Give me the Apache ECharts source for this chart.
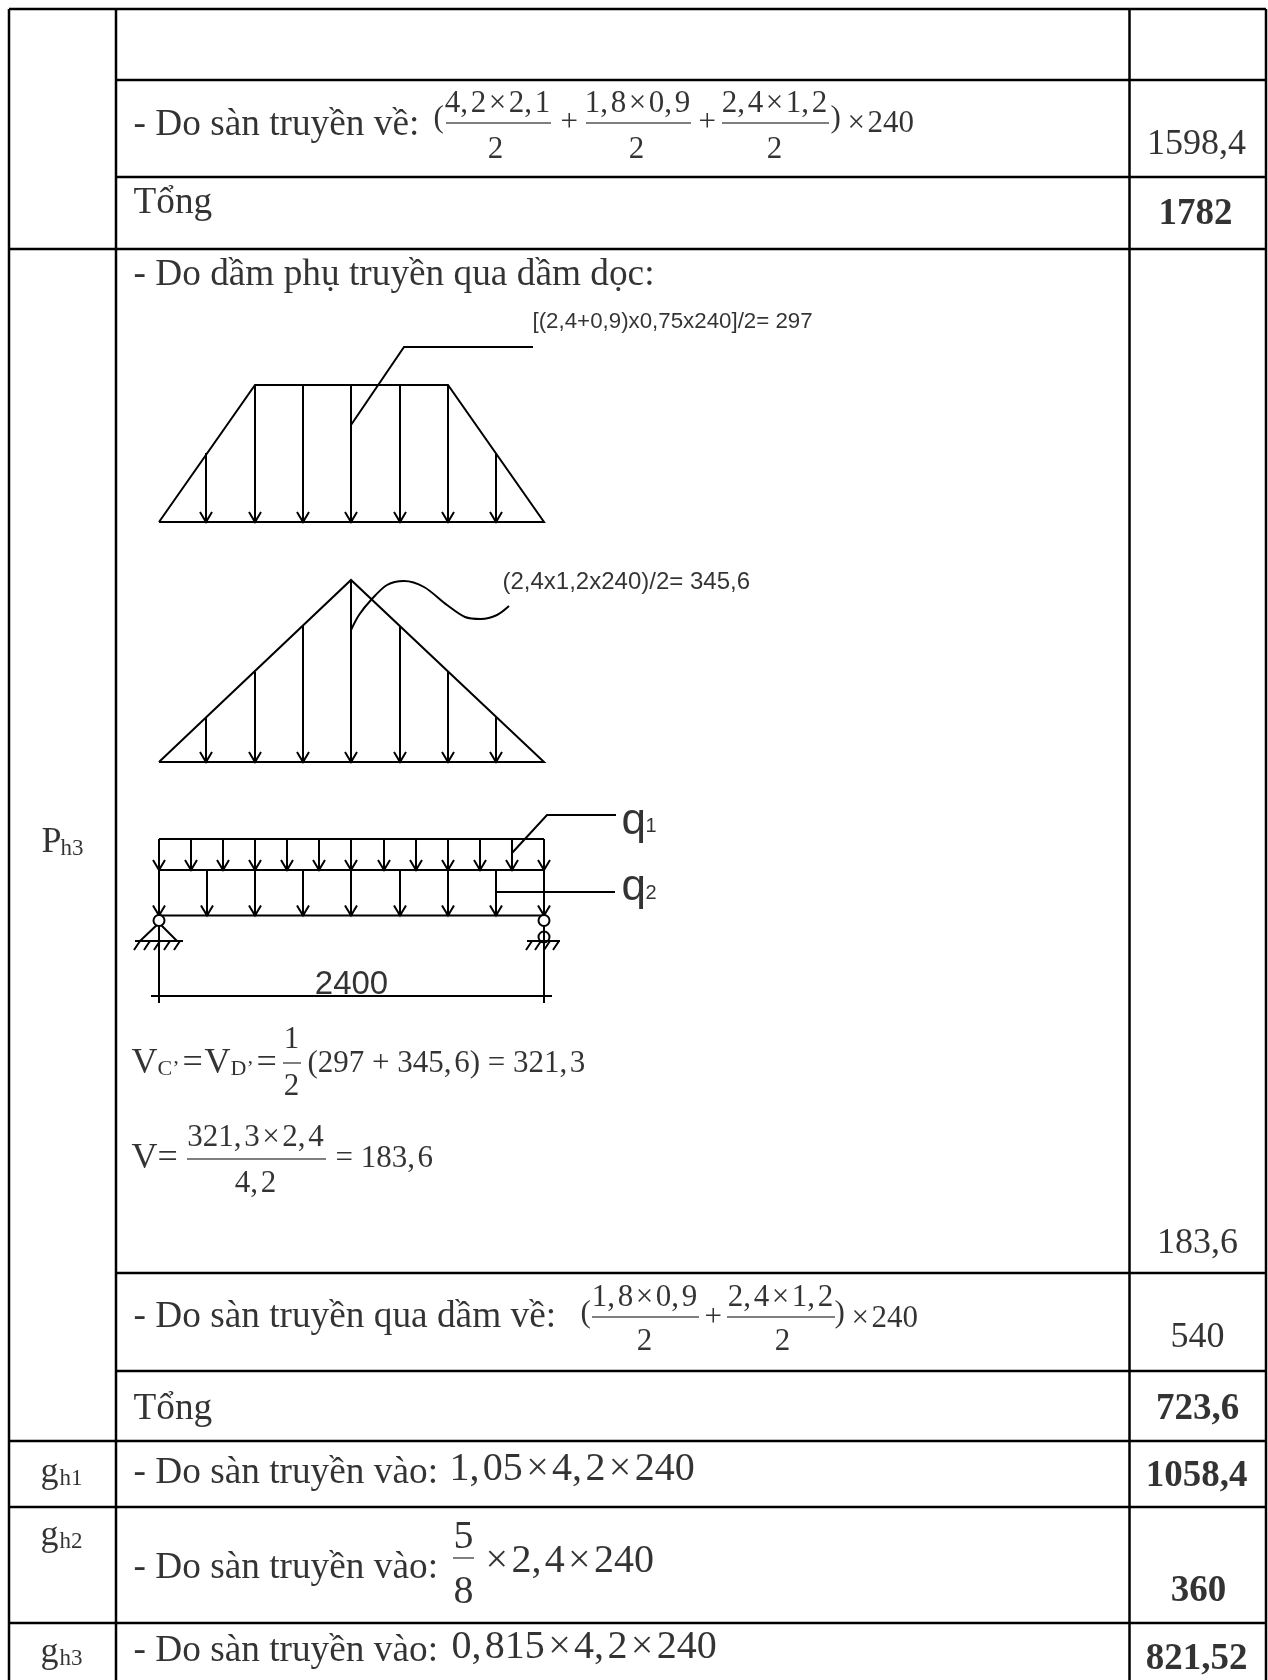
<!DOCTYPE html>
<html>
<head>
<meta charset="utf-8">
<title>Ph3</title>
<script src="https://cdn.jsdelivr.net/npm/echarts@6/dist/echarts.min.js"></script>
<style>
  html, body { margin: 0; padding: 0; background: #fff; }
  #chart { width: 1268px; height: 1680px; }
</style>
</head>
<body>
<div id="chart"></div>
<script>
// table rules: [x1, y1, x2, y2]
const tableRules = [
  [9, 9, 1266, 9], [116, 80, 1266, 80], [116, 177, 1266, 177], [9, 249, 1266, 249],
  [116, 1273, 1266, 1273], [116, 1371, 1266, 1371], [9, 1441, 1266, 1441],
  [9, 1507, 1266, 1507], [9, 1623, 1266, 1623],
  [9, 9, 9, 1680], [116, 9, 116, 1680], [1129.5, 9, 1129.5, 1680], [1266, 9, 1266, 1680]
];

// trapezoid load
const trapezoidOutline = [[159, 522], [255, 385], [448, 385], [544, 522], [159, 522]];
const trapezoidX = [206, 255, 303, 351, 400, 448, 496];
const trapezoidTop = [453, 385, 385, 385, 385, 385, 453];
const trapezoidBase = 522;
const trapezoidLeader = [[351, 425], [404, 347], [533, 347]];

// triangle load
const triangleOutline = [[159, 762], [351, 580], [544, 762], [159, 762]];
const triangleX = [206, 255, 303, 351, 400, 448, 496];
const triangleTop = [717, 672, 625, 580, 627, 672, 717];
const triangleBase = 762;
const triangleLeader = [[351, 630], [359, 615], [371, 600], [387, 585], [404, 581], [424, 587], [447, 605], [465, 617], [481, 619], [497, 615], [509, 606]];

// combined load on the beam
const q1Lines = [[[159, 839], [544, 839]], [[159, 870], [544, 870]]];
const q1X = [159, 191, 223, 255, 287, 319, 351, 384, 416, 448, 480, 512, 544];
const q1Top = 839;
const q1Base = 870;
const q2Line = [[159, 915.5], [544, 915.5]];
const q2X = [159, 207, 255, 303, 351, 400, 448, 496, 544];
const q2Top = 870;
const q2Base = 915.5;
const q1Leader = [[512, 853], [547, 815], [616, 815]];
const q2Leader = [[496, 892], [615, 892]];

// supports and dimension line
const supportLines = [
  [[140, 941], [159, 923], [177, 941]],
  [[135, 941], [183, 941]],
  [[527, 941], [560, 941]],
  [[159, 916], [159, 1003]],
  [[544, 916], [544, 1003]],
  [[151, 996], [552, 996]]
];
const hatchX = [140, 150, 160, 170, 180, 532, 541, 550, 559];
const hatchY = 941;
const topHinges = [[159, 920.5], [544, 920.5]];
const lowerHinge = [[544, 937]];

// fraction bars
const fractionBars = [
  [[446, 123], [551, 123]], [[586, 123], [691, 123]], [[722, 123], [829, 123]],
  [[592, 1317], [699, 1317]], [[727, 1317], [835, 1317]],
  [[283, 1063], [301, 1063]], [[187, 1159], [326, 1159]],
  [[453, 1558], [474, 1558]]
];

// texts: [x, y, string]
const cellTexts = [
  [134, 126, '- Do sàn truyền về:'],
  [134, 204, 'Tổng'],
  [134, 276, '- Do dầm phụ truyền qua dầm dọc:'],
  [134, 1318, '- Do sàn truyền qua dầm về:'],
  [134, 1410, 'Tổng'],
  [134, 1474, '- Do sàn truyền vào:'],
  [134, 1569, '- Do sàn truyền vào:'],
  [134, 1652, '- Do sàn truyền vào:']
];
const rowLabelMain = [[42, 843, 'P'], [41, 1473, 'g'], [41, 1536, 'g'], [41, 1653, 'g']];
const rowLabelSub = [[61, 849, 'h3'], [60, 1479, 'h1'], [60, 1542, 'h2'], [60, 1659, 'h3']];
const plainValues = [
  [1197, 145, '1598,4'], [1198, 1244, '183,6'], [1198, 1338, '540']
];
const boldValues = [
  [1196, 215, '1782'], [1198, 1410, '723,6'], [1197, 1477, '1058,4'],
  [1199, 1592, '360'], [1197, 1660, '821,52']
];
const formulaTexts = [
  [434, 119, '('], [561, 123, '+'], [699, 123, '+'], [831, 119, ')'], [848, 124, '×\u200a240'],
  [581, 1314, '('], [705, 1318, '+'], [835, 1314, ')'], [852, 1319, '×\u200a240']
];
const fractionTexts = [
  [498, 104, '4,\u200a2\u200a×\u200a2,\u200a1'], [496, 150, '2'],
  [638, 104, '1,\u200a8\u200a×\u200a0,\u200a9'], [637, 150, '2'],
  [775, 104, '2,\u200a4\u200a×\u200a1,\u200a2'], [775, 150, '2'],
  [645, 1298, '1,\u200a8\u200a×\u200a0,\u200a9'], [645, 1342, '2'],
  [781, 1298, '2,\u200a4\u200a×\u200a1,\u200a2'], [783, 1342, '2']
];
const vMain = [[132, 1064, 'V'], [183, 1064, '='], [205, 1064, 'V'], [257, 1064, '='], [132, 1159, 'V'], [158, 1159, '=']];
const vSub = [[158, 1070, 'C’'], [231, 1070, 'D’']];
const formulaLine = [[308, 1064, '(297 + 345,\u200a6) = 321,\u200a3'], [336, 1159, '= 183,\u200a6']];
const bigFractionTexts = [
  [292, 1040, '1'], [292, 1087, '2'], [256, 1138, '321,\u200a3\u200a×\u200a2,\u200a4'], [256, 1184, '4,\u200a2']
];
const largeFormulaTexts = [
  [450, 1470, '1,\u200a05\u200a×\u200a4,\u200a2\u200a×\u200a240'],
  [486, 1562, '×\u200a2,\u200a4\u200a×\u200a240'],
  [452, 1648, '0,\u200a815\u200a×\u200a4,\u200a2\u200a×\u200a240']
];
const largeFractionTexts = [[464, 1538, '5'], [464, 1593, '8']];
const noteOne = [[533, 322, '[(2,4+0,9)x0,75x240]/2= 297']];
const noteTwo = [[503, 583, '(2,4x1,2x240)/2= 345,6']];
const qMain = [[622, 822, 'q'], [622, 888, 'q']];
const qSub = [[646, 827, '1'], [646, 894, '2']];
const spanLabel = [[352, 985, '2400']];

// join polylines into one data list, gaps between them
function joinLines(lines) {
  const out = [];
  lines.forEach(function (line) {
    line.forEach(function (p) { out.push(p); });
    out.push([NaN, NaN]);
  });
  return out;
}

function rulesToLines(rules) {
  return rules.map(function (r) { return [[r[0], r[1]], [r[2], r[3]]]; });
}

// down arrows from a top height to a base, with the two head strokes
function arrows(xs, tops, base) {
  const lines = [];
  xs.forEach(function (x, i) {
    const top = Array.isArray(tops) ? tops[i] : tops;
    lines.push([[x, top], [x, base]]);
    lines.push([[x - 6, base - 10], [x, base], [x + 6, base - 10]]);
  });
  return lines;
}

function lineSeries(lines, width, smooth) {
  return {
    type: 'line',
    data: joinLines(lines),
    showSymbol: false,
    symbol: 'none',
    smooth: smooth || false,
    clip: false,
    lineStyle: { color: '#000', width: width, cap: 'butt', join: 'miter' }
  };
}

function hingeSeries(points, fill, z) {
  return {
    type: 'scatter',
    data: points,
    symbol: 'circle',
    symbolSize: 11,
    clip: false,
    z: z,
    itemStyle: { color: fill, borderColor: '#000', borderWidth: 2, opacity: 1 }
  };
}

function textSeries(items, font, size, weight, align) {
  return {
    type: 'scatter',
    data: items,
    symbolSize: 1,
    itemStyle: { color: 'transparent' },
    clip: false,
    z: 12,
    label: {
      show: true,
      position: [0, 0],
      align: align,
      verticalAlign: 'middle',
      fontFamily: font,
      fontSize: size,
      fontWeight: weight,
      color: '#000',
      formatter: function (p) { return p.data[2]; }
    }
  };
}

const serif = '"Liberation Serif"';
const sans = '"Liberation Sans"';

const chart = echarts.init(document.getElementById('chart'), null, { renderer: 'canvas' });
chart.setOption({
  animation: false,
  backgroundColor: '#fff',
  grid: { left: 0, right: 0, top: 0, bottom: 0 },
  xAxis: { type: 'value', min: 0, max: 1268, show: false },
  yAxis: { type: 'value', min: 0, max: 1680, inverse: true, show: false },
  tooltip: { show: false },
  series: [
    lineSeries(rulesToLines(tableRules), 2.5),
    lineSeries([trapezoidOutline].concat(arrows(trapezoidX, trapezoidTop, trapezoidBase), [trapezoidLeader]), 2),
    lineSeries([triangleOutline].concat(arrows(triangleX, triangleTop, triangleBase)), 2),
    lineSeries([triangleLeader], 2, 0.3),
    lineSeries(q1Lines.concat(arrows(q1X, q1Top, q1Base), arrows(q2X, q2Top, q2Base), [q2Line, q1Leader, q2Leader]), 2),
    lineSeries(supportLines.concat(hatchX.map(function (x) { return [[x, hatchY], [x - 6, hatchY + 9]]; })), 2),
    lineSeries(fractionBars, 1.2),
    hingeSeries(lowerHinge, 'transparent', 10),
    hingeSeries(topHinges, '#fff', 11),
    textSeries(cellTexts, serif, 37.3, 'normal', 'left'),
    textSeries(rowLabelMain, serif, 36, 'normal', 'left'),
    textSeries(rowLabelSub, serif, 23, 'normal', 'left'),
    textSeries(plainValues, serif, 36, 'normal', 'center'),
    textSeries(boldValues, serif, 37, 'bold', 'center'),
    textSeries(formulaTexts, serif, 31, 'normal', 'left'),
    textSeries(fractionTexts, serif, 31, 'normal', 'center'),
    textSeries(vMain, serif, 36, 'normal', 'left'),
    textSeries(vSub, serif, 22, 'normal', 'left'),
    textSeries(formulaLine, serif, 31, 'normal', 'left'),
    textSeries(bigFractionTexts, serif, 31, 'normal', 'center'),
    textSeries(largeFormulaTexts, serif, 40, 'normal', 'left'),
    textSeries(largeFractionTexts, serif, 40, 'normal', 'center'),
    textSeries(noteOne, sans, 22.3, 'normal', 'left'),
    textSeries(noteTwo, sans, 24, 'normal', 'left'),
    textSeries(qMain, sans, 44, 'normal', 'left'),
    textSeries(qSub, sans, 20, 'normal', 'left'),
    textSeries(spanLabel, sans, 33, 'normal', 'center')
  ]
});
</script>
</body>
</html>
